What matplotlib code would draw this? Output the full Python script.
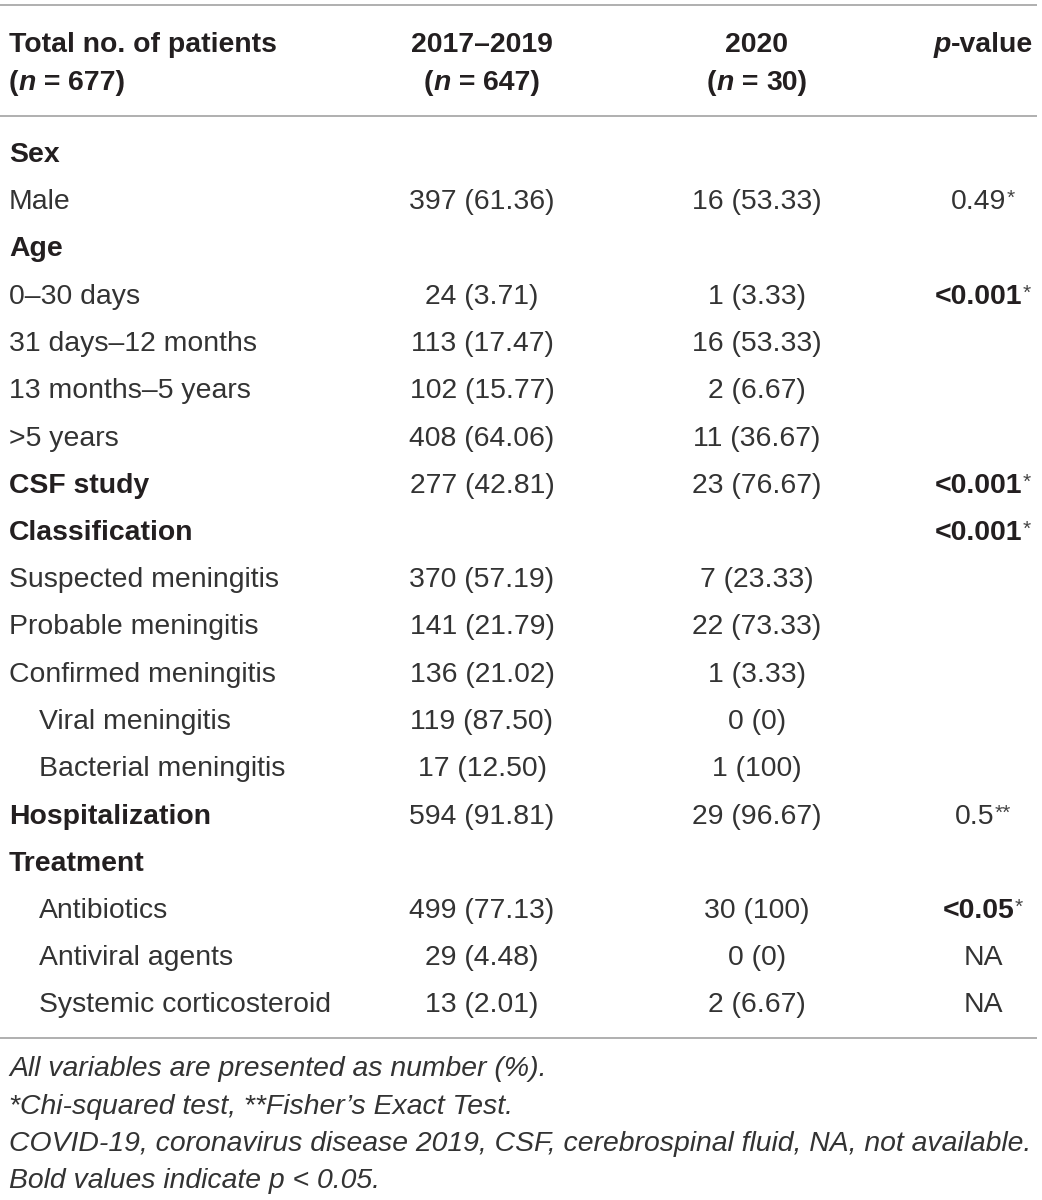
import matplotlib
matplotlib.use("Agg")
import matplotlib.pyplot as plt

plt.rcParams["font.family"] = ["Liberation Sans", "DejaVu Sans"]

# --- table content --------------------------------------------------------
HEAD_LEFT = ["Total no. of patients", "677"]
HEAD_2017 = ["2017–2019", "647"]
HEAD_2020 = ["2020", "30"]

row_labels = ["Sex", "Male", "Age", "0–30 days", "31 days–12 months",
              "13 months–5 years", ">5 years", "CSF study", "Classification",
              "Suspected meningitis", "Probable meningitis", "Confirmed meningitis",
              "Viral meningitis", "Bacterial meningitis", "Hospitalization",
              "Treatment", "Antibiotics", "Antiviral agents",
              "Systemic corticosteroid"]
bold_rows = {"Sex", "Age", "CSF study", "Classification", "Hospitalization",
             "Treatment"}
indent_rows = {"Viral meningitis", "Bacterial meningitis", "Antibiotics",
               "Antiviral agents", "Systemic corticosteroid"}

col_2017 = ["", "397 (61.36)", "", "24 (3.71)", "113 (17.47)", "102 (15.77)",
            "408 (64.06)", "277 (42.81)", "", "370 (57.19)", "141 (21.79)",
            "136 (21.02)", "119 (87.50)", "17 (12.50)", "594 (91.81)", "",
            "499 (77.13)", "29 (4.48)", "13 (2.01)"]
col_2020 = ["", "16 (53.33)", "", "1 (3.33)", "16 (53.33)", "2 (6.67)",
            "11 (36.67)", "23 (76.67)", "", "7 (23.33)", "22 (73.33)",
            "1 (3.33)", "0 (0)", "1 (100)", "29 (96.67)", "", "30 (100)",
            "0 (0)", "2 (6.67)"]
p_values = ["", "0.49", "", "<0.001", "", "", "", "<0.001", "<0.001", "", "",
            "", "", "", "0.5", "", "<0.05", "NA", "NA"]
p_marks = ["", "*", "", "*", "", "", "", "*", "*", "", "", "", "", "", "**",
           "", "*", "", ""]
p_bold = ["<0.001", "<0.05"]

footnotes = ["All variables are presented as number (%).",
             "*Chi-squared test, **Fisher’s Exact Test.",
             "COVID-19, coronavirus disease 2019, CSF, cerebrospinal fluid, NA, not available.",
             "Bold values indicate p < 0.05."]

# --- layout ---------------------------------------------------------------
W, H = 1042, 1200
FS = 20.4
INK = "#231f20"
INK_LIGHT = "#333333"
RULE = "#9a9a9a"
X_LEFT, X_INDENT = 9, 39
X_2017, X_2020, X_P = 482, 757, 983
ROW0, ROW_STEP = 162, 47.25

fig = plt.figure(figsize=(W / 100, H / 100), dpi=100)
ax = fig.add_axes([0, 0, 1, 1])
ax.set_xlim(0, W)
ax.set_ylim(H, 0)
ax.axis("off")
renderer = fig.canvas.get_renderer()


def draw_runs(x, y, runs, ha="center"):
    """runs: list of (text, dict of text kwargs; 'rise' in px for superscript)."""
    items = []
    for s, kw in runs:
        kw = dict(kw)
        rise = kw.pop("rise", 0)
        kw.setdefault("color", INK if kw.get("fontweight") == "bold" else INK_LIGHT)
        kw.setdefault("fontsize", FS)
        t = ax.text(0, y - rise, s, ha="left", va="baseline", **kw)
        items.append(t)
    widths = [t.get_window_extent(renderer=renderer).width for t in items]
    total = sum(widths)
    x0 = x - total / 2 if ha == "center" else (x - total if ha == "right" else x)
    for t, w in zip(items, widths):
        t.set_x(x0)
        x0 += w


SUP = {"fontsize": 15, "rise": 5, "color": "#444444"}
BOLD = {"fontweight": "bold"}
BOLD_IT = {"fontweight": "bold", "fontstyle": "italic"}

# header
for x, (top, n), ha in [(X_LEFT, HEAD_LEFT, "left"), (X_2017, HEAD_2017, "center"),
                        (X_2020, HEAD_2020, "center")]:
    draw_runs(x, 52, [(top, BOLD)], ha)
    draw_runs(x, 90, [("(", BOLD), ("n", BOLD_IT), (" = ", BOLD),
                      (f"{n})", BOLD)], ha)
draw_runs(X_P, 52, [("p", BOLD_IT), ("-value", BOLD)])

# body rows
for i, label in enumerate(row_labels):
    y = ROW0 + i * ROW_STEP
    x = X_INDENT if label in indent_rows else X_LEFT
    draw_runs(x, y, [(label, BOLD if label in bold_rows else {})], "left")
    if col_2017[i]:
        draw_runs(X_2017, y, [(col_2017[i], {})])
    if col_2020[i]:
        draw_runs(X_2020, y, [(col_2020[i], {})])
    if p_values[i]:
        runs = [(p_values[i], BOLD if p_values[i] in p_bold else {})]
        if p_marks[i]:
            runs.append((p_marks[i], SUP))
        draw_runs(X_P, y, runs)

# rules
for yr in (5, 116, 1038):
    ax.plot([0, 1037], [yr, yr], color=RULE, lw=1.1, solid_capstyle="butt")

# footnotes
for j, note in enumerate(footnotes):
    draw_runs(X_LEFT, 1076 + j * 37.5, [(note, {"fontstyle": "italic"})], "left")

fig.savefig("out.png", dpi=100, facecolor="white")
